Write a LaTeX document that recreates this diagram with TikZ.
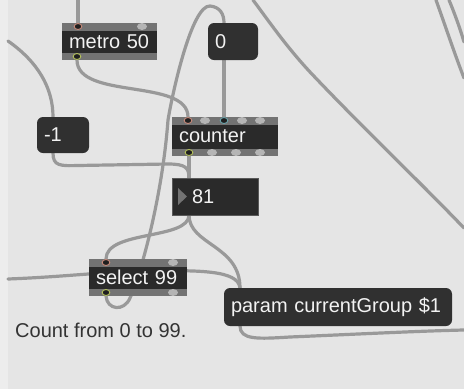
\documentclass[tikz,border=0pt]{standalone}
\usepackage{fontspec}
\setmainfont{Liberation Sans}
\definecolor{patchbg}{HTML}{E5E5E5}
\definecolor{edgebg}{HTML}{EDEDED}
\definecolor{boxdark}{HTML}{2A2A2A}
\definecolor{msgdark}{HTML}{303030}
\definecolor{stripgray}{HTML}{737373}
\definecolor{bumpgray}{HTML}{B5B5B5}
\definecolor{cablegray}{HTML}{999999}
\definecolor{boxtext}{HTML}{F2F2F2}
\definecolor{commenttext}{HTML}{333333}
\definecolor{inring}{HTML}{C98A7A}
\definecolor{tealring}{HTML}{6AA7B0}
\definecolor{outring}{HTML}{B5C25A}
\pgfdeclarelayer{bg}
\pgfdeclarelayer{cables}
\pgfsetlayers{bg,cables,main}
\begin{document}
\begin{tikzpicture}[x=1pt,y=-1pt,
  boxfont/.style={font=\fontsize{20}{24}\selectfont, text=boxtext},
  basebox/.style={boxfont, inner ysep=0pt, inner xsep=7pt, outer sep=0pt, align=left},
  objbox/.style={basebox, fill=boxdark,
    path picture={
      \fill[stripgray] (path picture bounding box.north west) rectangle ([yshift=-7.5pt]path picture bounding box.north east);
      \fill[stripgray] (path picture bounding box.south west) rectangle ([yshift=7.5pt]path picture bounding box.south east);
    }},
  msgbox/.style={basebox, fill=msgdark, rounded corners=6pt},
  numbox/.style={basebox, fill=boxdark, draw=black!65, line width=0.8pt},
  comment/.style={font=\fontsize{20}{24}\selectfont, text=commenttext, inner sep=0pt},
  cable/.style={draw=cablegray, line width=3.2pt, line cap=round},
  bump/.style={fill=bumpgray},
  inport/.style={fill=black!88, draw=inring, line width=0.9pt},
  tealport/.style={fill=black!88, draw=tealring, line width=0.9pt},
  outport/.style={fill=black!88, draw=outring, line width=0.9pt}
]
\useasboundingbox (0,0) rectangle (464,389);
\begin{pgfonlayer}{bg}
  \fill[edgebg] (0,0) rectangle (8,389);
  \fill[patchbg] (8,0) rectangle (464,389);
\end{pgfonlayer}

% boxes
\node[objbox, minimum height=37pt, text width=81pt] (metro) at (109.5,41.5) {metro 50};
\node[msgbox, minimum height=37pt, text width=36pt] (zero) at (233,41.5) {0};
\node[objbox, minimum height=39pt, text width=92pt] (counter) at (225,136.5) {counter};
\node[msgbox, minimum height=36pt, text width=38pt] (minus) at (63,135) {-1};
\node[numbox, minimum height=37pt, text width=72pt] (num) at (215,196.5) {\hspace*{13pt}81};
\node[objbox, minimum height=37pt, text width=84pt] (select) at (138,277.5) {select 99};
\node[msgbox, minimum height=38pt, text width=214pt] (param) at (338,307) {param currentGroup \$1};
\node[comment, anchor=base west] (note) at (15,337) {Count from 0 to 99.};

% number box arrow
\fill[stripgray] (178,188) -- (178,205) -- (187,196.5) -- cycle;

% ports
\coordinate (metro-in) at ([xshift=16pt]metro.north west);
\coordinate (metro-out) at ([xshift=15pt]metro.south west);
\coordinate (zero-in) at ([xshift=16pt]zero.north west);
\coordinate (zero-out) at ([xshift=16pt]zero.south west);
\coordinate (counter-in1) at ([xshift=16pt]counter.north west);
\coordinate (counter-in3) at ([xshift=52pt]counter.north west);
\coordinate (counter-out1) at ([xshift=17pt]counter.south west);
\coordinate (minus-in) at ([xshift=16pt]minus.north west);
\coordinate (minus-out) at ([xshift=16pt]minus.south west);
\coordinate (num-in) at ([xshift=17pt]num.north west);
\coordinate (num-out) at ([xshift=17pt]num.south west);
\coordinate (select-in1) at ([xshift=17pt]select.north west);
\coordinate (select-out1) at ([xshift=17pt]select.south west);
\coordinate (param-in) at ([xshift=16pt]param.north west);
\coordinate (param-out) at ([xshift=16pt]param.south west);

% loose cable ends at the window edges
\coordinate (feedA) at (78,0);
\coordinate (feedB) at (8,41);
\coordinate (feedC) at (8,279);
\coordinate (outD) at (464,330);
\coordinate (wireE1) at (253,0);
\coordinate (wireE2) at (464,228);
\coordinate (wireF1) at (436,0);
\coordinate (wireF2) at (464,78);
\coordinate (wireG1) at (449,0);
\coordinate (wireG2) at (464,42);

% unconnected inlets and outlets
\foreach \px in {142} \fill[bump] ([xshift=\px pt - 62pt, yshift=-3.5pt]metro.north west) ellipse (5pt and 3.5pt);
\foreach \px in {205,242,260} \fill[bump] ([xshift=\px pt - 172pt, yshift=-3.5pt]counter.north west) ellipse (5pt and 3.5pt);
\foreach \px in {212,236,260} \fill[bump] ([xshift=\px pt - 172pt, yshift=3.5pt]counter.south west) ellipse (5pt and 3.5pt);
\fill[bump] ([xshift=84pt, yshift=-3.5pt]select.north west) ellipse (5pt and 3.5pt);
\fill[bump] ([xshift=84pt, yshift=3.5pt]select.south west) ellipse (5pt and 3.5pt);

% connected inlets and outlets
\path[inport] ([yshift=-3.5pt]metro-in) ellipse (3.8pt and 3pt);
\path[outport] ([yshift=3.5pt]metro-out) ellipse (3.8pt and 3pt);
\path[inport] ([yshift=-3.5pt]counter-in1) ellipse (3.8pt and 3pt);
\path[tealport] ([yshift=-3.5pt]counter-in3) ellipse (3.8pt and 3pt);
\path[outport] ([yshift=3.5pt]counter-out1) ellipse (3.8pt and 3pt);
\path[inport] ([yshift=-3.5pt]select-in1) ellipse (3.8pt and 3pt);
\path[outport] ([yshift=3.5pt]select-out1) ellipse (3.8pt and 3pt);

% patch cords
\begin{pgfonlayer}{cables}
  \draw[cable] (feedA) -- (metro-in);
  \draw[cable] (metro-out) .. controls (77,100) and (188,78) .. (counter-in1);
  \draw[cable] (feedB) .. controls (38,62) and (53,88) .. (minus-in);
  \draw[cable] (minus-out) .. controls (53,166) and (60,166) .. (78,165.5)
     -- (168,164) .. controls (186,164) and (189,168) .. (num-in);
  \draw[cable] (counter-out1) -- (num-in);
  \draw[cable] (zero-out) -- (counter-in3);
  \draw[cable] (select-out1) .. controls (107,310) and (124,312) .. (130,298)
     .. controls (140,276) and (162,200) .. (168,120)
     .. controls (173,90) and (192,5) .. (210,6)
     .. controls (220,7) and (224,14) .. (zero-in);
  \draw[cable] (num-out) .. controls (189,240) and (106,230) .. (select-in1);
  \draw[cable] (num-out) .. controls (189,245) and (240,245) .. (param-in);
  \draw[cable] (feedC) .. controls (60,277) and (90,273) .. (140,271)
     .. controls (200,270) and (238,270) .. (param-in);
  \draw[cable] (param-out) .. controls (240,340) and (258,339) .. (290,337)
     .. controls (360,334) and (420,331) .. (outD);
  \draw[cable] (wireE1) .. controls (268,20) and (285,45) .. (310,72)
     .. controls (360,125) and (420,182) .. (wireE2);
  \draw[cable] (wireF1) .. controls (445,25) and (455,55) .. (wireF2);
  \draw[cable] (wireG1) .. controls (454,12) and (460,28) .. (wireG2);
\end{pgfonlayer}
\end{tikzpicture}
\end{document}
